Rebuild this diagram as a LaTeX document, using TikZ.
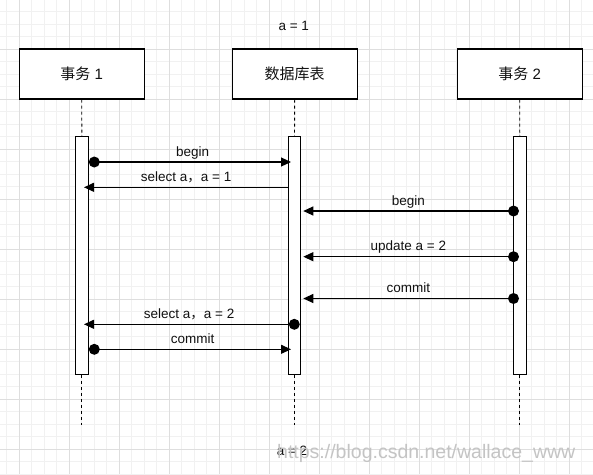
\documentclass[tikz,border=0pt]{standalone}
\usepackage{fontspec}
\setmainfont{Liberation Sans}
\newfontfamily\cjk{Noto Sans CJK SC}
\usetikzlibrary{arrows.meta}
\definecolor{gridmajor}{HTML}{DEDEDE}
\definecolor{gridminor}{HTML}{F1F1F1}
\definecolor{ink}{HTML}{111111}
\definecolor{wm}{HTML}{C4C4C4}
\begin{document}
\begin{tikzpicture}[x=1pt,y=-1pt,
  actor/.style={draw=black, line width=1.2pt, fill=white, minimum width=125pt, minimum height=50pt, inner sep=0pt, font=\fontsize{15}{17}\selectfont, text=ink},
  bar/.style={draw=black, line width=1pt, fill=white, minimum width=12.5pt, minimum height=237.6pt, inner sep=0pt},
  life/.style={draw=black, line width=0.9pt, dash pattern=on 3pt off 3pt},
  msg/.style={draw=black, line width=1.1pt, -{Triangle[length=10pt,width=9pt]}},
  lbl/.style={font=\fontsize{13.5}{16}\selectfont, text=ink, inner sep=0pt, anchor=base, yshift=6pt},
  note/.style={font=\fontsize{13.5}{16}\selectfont, text=ink, inner sep=0pt, anchor=base},
  wmtext/.style={font=\fontsize{19.5}{22}\selectfont, text=wm, inner sep=0pt, anchor=base west},
]
\useasboundingbox (0,0) rectangle (593,474);
\fill[white] (0,0) rectangle (593,474);
% grid
\foreach \i in {0,...,47} { \draw[gridminor, line width=0.8pt] (6.8+12.5*\i,0) -- (6.8+12.5*\i,474); }
\foreach \i in {0,...,37} { \draw[gridminor, line width=0.8pt] (0,11.8+12.5*\i) -- (593,11.8+12.5*\i); }
\foreach \i in {0,...,11} { \draw[gridmajor, line width=0.9pt] (19.3+50*\i,0) -- (19.3+50*\i,474); }
\foreach \i in {0,...,8} { \draw[gridmajor, line width=0.9pt] (0,49.3+50*\i) -- (593,49.3+50*\i); }

% top note
\node[note] (na) at (293.8,30) {a = 1};

% actors
\node[actor] (t1) at (81.7,74) {{\cjk 事务} 1};
\node[actor] (db) at (294.7,74) {{\cjk 数据库表}};
\node[actor] (t2) at (519.7,74) {{\cjk 事务} 2};

% lifelines
\coordinate (e1) at (81.85,425);
\coordinate (e2) at (294.5,425);
\coordinate (e3) at (519.8,425);
\node[bar] (b1) at (81.85,255.5) {};
\node[bar] (b2) at (294.5,255.5) {};
\node[bar] (b3) at (519.8,255.5) {};
\draw[life] (t1.south) -- (b1.north);
\draw[life] (db.south) -- (b2.north);
\draw[life] (t2.south) -- (b3.north);
\draw[life] (b1.south) -- (e1);
\draw[life] (b2.south) -- (e2);
\draw[life] (b3.south) -- (e3);

% message end points
\coordinate (s1) at (94.3,162);   \coordinate (d1) at (291,162);
\coordinate (s2) at (288.3,187.3); \coordinate (d2) at (84,187.3);
\coordinate (s3) at (513.5,211);  \coordinate (d3) at (303.3,211);
\coordinate (s4) at (513.5,256.7); \coordinate (d4) at (303.3,256.7);
\coordinate (s5) at (513.5,298.5); \coordinate (d5) at (303.3,298.5);
\coordinate (s6) at (294.3,324.3); \coordinate (d6) at (84,324.3);
\coordinate (s7) at (94.3,349.3); \coordinate (d7) at (291,349.3);

\draw[msg] (s1) -- node[lbl] {begin} (d1);
\draw[msg] (s2) -- node[lbl] {select a{\cjk ，}a = 1} (d2);
\draw[msg] (s3) -- node[lbl] {begin} (d3);
\draw[msg] (s4) -- node[lbl] {update a = 2} (d4);
\draw[msg] (s5) -- node[lbl] {commit} (d5);
\draw[msg] (s6) -- node[lbl] {select a{\cjk ，}a = 2} (d6);
\draw[msg] (s7) -- node[lbl] {commit} (d7);
\foreach \p in {s1,s3,s4,s5,s6,s7} { \fill[black] (\p) circle (5.5); }

% bottom note and watermark (overlapping, as in the reference)
\node[note] (nb) at (292,455) {a = 2};
\node[wmtext] (wmk) at (277,458) {https://blog.csdn.net/wallace\_www};
\end{tikzpicture}
\end{document}
